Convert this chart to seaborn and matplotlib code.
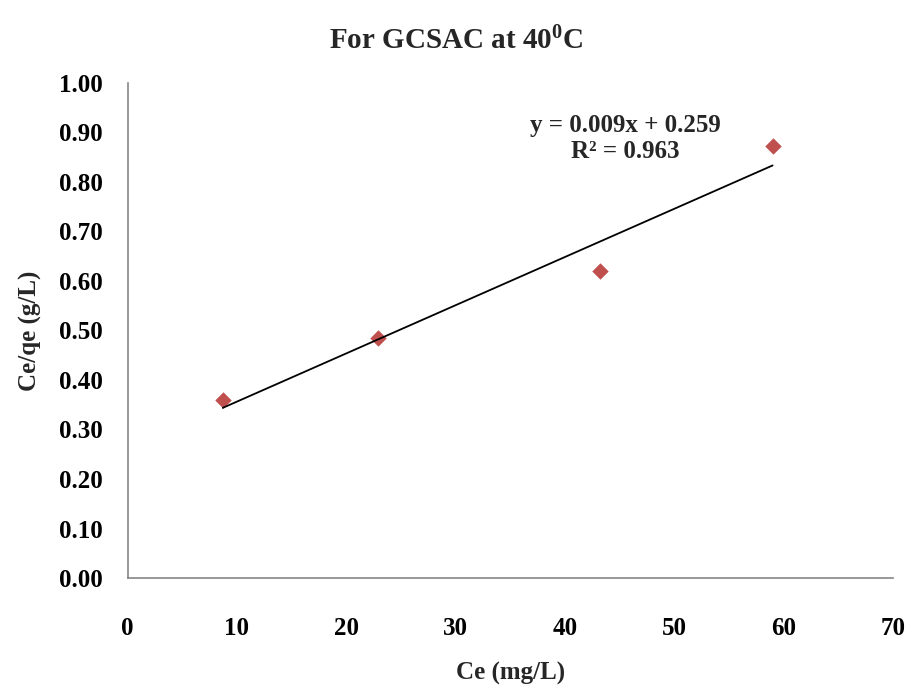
import numpy as np
import seaborn as sns
import matplotlib
matplotlib.use("Agg")
import matplotlib.pyplot as plt

ce = [8.7, 22.9, 43.2, 59.0]
ce_qe = [0.360, 0.485, 0.620, 0.873]
x_ticks = [0, 10, 20, 30, 40, 50, 60, 70]
y_ticks = [0.0, 0.1, 0.2, 0.3, 0.4, 0.5, 0.6, 0.7, 0.8, 0.9, 1.0]

sns.set_theme(style="white")
plt.rcParams["font.family"] = ["Liberation Serif", "DejaVu Serif"]
plt.rcParams["font.weight"] = "bold"
plt.rcParams["mathtext.fontset"] = "custom"
plt.rcParams["mathtext.rm"] = "Liberation Serif:bold"
plt.rcParams["mathtext.default"] = "rm"

fig = plt.figure(figsize=(9.12, 6.96), dpi=100)
ax = fig.add_axes([0.140, 0.1695, 0.839, 0.7115])

# scatter + least-squares line
sns.regplot(x=ce, y=ce_qe, ax=ax, ci=None, marker="D",
            scatter_kws=dict(color="#C0504D", s=70, linewidths=0, alpha=1),
            line_kws=dict(color="black", lw=1.3))

slope, intercept = np.polyfit(ce, ce_qe, 1)
r2 = np.corrcoef(ce, ce_qe)[0, 1] ** 2

ax.set_xlim(0, 70)
ax.set_ylim(0, 1.0)
ax.set_xticks(x_ticks)
ax.set_yticks(y_ticks)
ax.set_yticklabels([f"{v:.2f}" for v in y_ticks])
ax.tick_params(axis="both", labelsize=18, colors="#868686", labelcolor="black",
               length=8, width=1, direction="out")
ax.tick_params(axis="x", pad=20)
ax.tick_params(axis="y", pad=10)
for lab in ax.get_xticklabels() + ax.get_yticklabels():
    lab.set_fontweight("bold")

for side in ["top", "right"]:
    ax.spines[side].set_visible(False)
for side in ["left", "bottom"]:
    ax.spines[side].set_color("#868686")
    ax.spines[side].set_linewidth(1.2)

ax.set_xlabel("Ce (mg/L)", fontsize=18, fontweight="bold", labelpad=16)
ax.set_ylabel("Ce/qe (g/L)", fontsize=18, fontweight="bold", labelpad=12)

ax.text(0.650, 0.887, f"y = {0.009:.3f}x + {intercept:.3f}\nR\u00b2 = {r2:.3f}",
        transform=ax.transAxes, ha="center", va="center", fontsize=18,
        fontweight="bold", linespacing=1.15)

fig.suptitle(r"For GCSAC at 40$^{0}$C", x=0.5, y=0.962, fontsize=21, fontweight="bold")

fig.savefig("out.png", dpi=100)
